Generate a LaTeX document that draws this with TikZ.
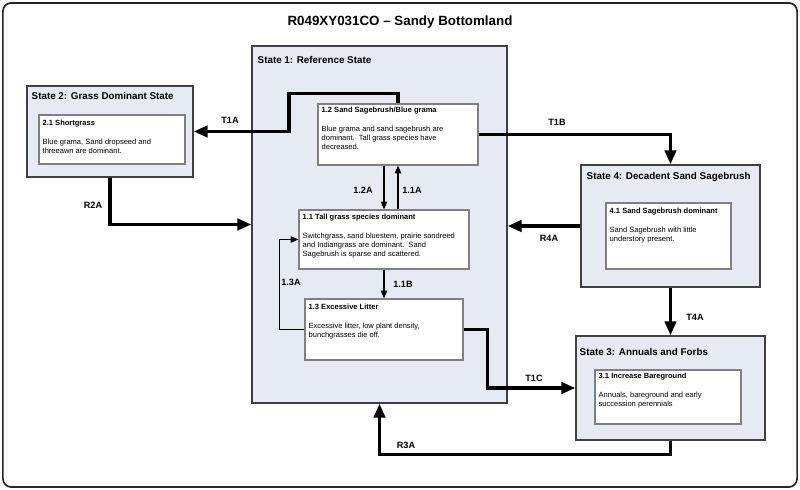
\documentclass[tikz,border=0pt]{standalone}
\usepackage{fontspec}
\setmainfont{Liberation Sans}
\usetikzlibrary{arrows.meta}
\definecolor{statefill}{HTML}{E6EBF3}

\begin{document}
\begin{tikzpicture}[x=0.025cm,y=-0.025cm]
\tikzset{
  frame/.style={draw=black!85,line width=1.2pt,rounded corners=6pt,inner sep=0pt},
  maintitle/.style={font=\fontsize{9.5}{11}\selectfont\bfseries},
  statebox/.style={draw=black!75,fill=statefill,line width=0.8pt,inner sep=0pt},
  phasebox/.style={draw=black!50,fill=white,line width=0.8pt,inner sep=0pt},
  statetitle/.style={anchor=base west,inner sep=0pt,font=\fontsize{7}{8}\selectfont\bfseries},
  boxtext/.style={anchor=north west,inner sep=0pt,align=left,font=\fontsize{5.35}{6.4}\selectfont},
  trans/.style={line width=2.6pt,-{Triangle[length=10pt,width=8pt]}},
  pathw/.style={line width=0.9pt,-{Triangle[length=5.5pt,width=4.5pt]}},
  arrlabel/.style={font=\fontsize{6.5}{7}\selectfont\bfseries}
}
\useasboundingbox (0,0) rectangle (800,490);

% frame and title
\node[frame,minimum width=19.85cm,minimum height=12.1cm] (frame) at (400,245) {};
\node[maintitle] (title) at (400,22) {R049XY031CO – Sandy Bottomland};

% states
\node[statebox,minimum width=6.375cm,minimum height=8.925cm] (s1) at (379.5,224.5) {};
\node[statebox,minimum width=4.15cm,minimum height=2.275cm]  (s2) at (110,131.5) {};
\node[statebox,minimum width=4.475cm,minimum height=3.05cm]  (s4) at (670.5,226) {};
\node[statebox,minimum width=4.725cm,minimum height=2.6cm]   (s3) at (670.5,388) {};

\node[statetitle] (h1) at ([shift={(6,18)}]s1.north west) {State 1: Reference State};
\node[statetitle] (h2) at ([shift={(5,14)}]s2.north west) {State 2: Grass Dominant State};
\node[statetitle] (h4) at ([shift={(6,15)}]s4.north west) {State 4: Decadent Sand Sagebrush};
\node[statetitle] (h3) at ([shift={(4,20)}]s3.north west) {State 3: Annuals and Forbs};

% community phases
\node[phasebox,minimum width=4cm,minimum height=1.525cm]    (b12) at (398,134.5) {};
\node[phasebox,minimum width=4.25cm,minimum height=1.475cm] (b11) at (384,239.5) {};
\node[phasebox,minimum width=3.95cm,minimum height=1.525cm] (b13) at (384,329.5) {};
\node[phasebox,minimum width=3.65cm,minimum height=1.225cm] (b21) at (112,139.5) {};
\node[phasebox,minimum width=3.125cm,minimum height=1.65cm] (b41) at (668.5,236) {};
\node[phasebox,minimum width=3.65cm,minimum height=1.35cm]  (b31) at (668,397) {};

\node[boxtext] (t12) at ([shift={(4,3)}]b12.north west)
  {\textbf{1.2 Sand Sagebrush/Blue grama}\\[7pt]Blue grama and sand sagebrush are\\dominant.\ \ Tall grass species have\\decreased.};
\node[boxtext] (t11) at ([shift={(4,4)}]b11.north west)
  {\textbf{1.1 Tall grass species dominant}\\[7pt]Switchgrass, sand bluestem, prairie sandreed\\and Indiangrass are dominant.\ \ Sand\\Sagebrush is sparse and scattered.};
\node[boxtext] (t13) at ([shift={(4,5)}]b13.north west)
  {\textbf{1.3 Excessive Litter}\\[7pt]Excessive litter, low plant density,\\bunchgrasses die off.};
\node[boxtext] (t21) at ([shift={(4,5)}]b21.north west)
  {\textbf{2.1 Shortgrass}\\[7pt]Blue grama, Sand dropseed and\\threeawn are dominant.};
\node[boxtext] (t41) at ([shift={(4,5)}]b41.north west)
  {\textbf{4.1 Sand Sagebrush dominant}\\[7pt]Sand Sagebrush with little\\understory present.};
\node[boxtext] (t31) at ([shift={(4,3)}]b31.north west)
  {\textbf{3.1 Increase Bareground}\\[7pt]Annuals, bareground and early\\succession perennials};

% transitions and restorations
\draw[trans] (b12.north) -- ++(0,-10) -- ++(-109,0) |- (s2.east);
\draw[trans] (b12.east) -| (s4.north);
\draw[trans] (s4.west) -- (s4.west -| s1.east);
\draw[trans] (s4.south) -- (s3.north);
\draw[trans] (b13.east) -- ++(24,0) |- (s3.west);
\draw[trans] (s3.south) -- ++(0,14) -| (s1.south);
\draw[trans] (s2.south) |- (s1.west);

% community pathways
\draw[pathw] (b12.south -| b11.north) -- (b11.north);
\draw[pathw] (b11.north -| b12.south) -- (b12.south);
\draw[pathw] (b11.south) -- (b13.north);
\draw[pathw] (b13.west) -- ++(-25,0) |- (b11.west);

% labels
\node[arrlabel] (lT1A) at (230,120) {T1A};
\node[arrlabel] (lT1B) at (557,122) {T1B};
\node[arrlabel] (lR4A) at (549,238) {R4A};
\node[arrlabel] (lT4A) at (695,317) {T4A};
\node[arrlabel] (lT1C) at (534,378) {T1C};
\node[arrlabel] (lR3A) at (406,445) {R3A};
\node[arrlabel] (lR2A) at (93,205) {R2A};
\node[arrlabel] (l12A) at (363,190) {1.2A};
\node[arrlabel] (l11A) at (412,190) {1.1A};
\node[arrlabel] (l11B) at (403,284) {1.1B};
\node[arrlabel] (l13A) at (291,282) {1.3A};
\end{tikzpicture}
\end{document}
